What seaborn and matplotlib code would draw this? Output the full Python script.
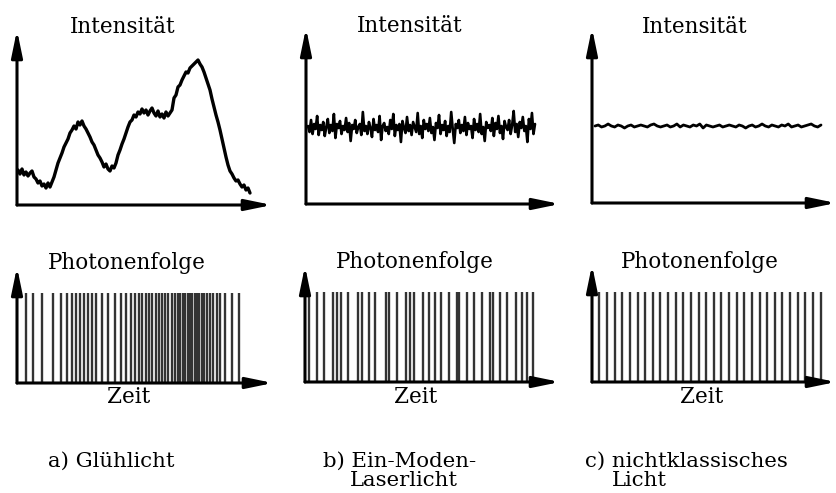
import numpy as np
import matplotlib
matplotlib.use("Agg")
import matplotlib.pyplot as plt
import seaborn as sns
import pandas as pd

# ---------------- data ----------------
titles_top = ["Intensität", "Intensität", "Intensität"]
titles_bottom = ["Photonenfolge", "Photonenfolge", "Photonenfolge"]
xlabel = "Zeit"
captions = ["a) Glühlicht", "b) Ein-Moden-\nLaserlicht", "c) nichtklassisches\nLicht"]

# a) thermal light intensity (arbitrary units), sampled every 2 time units from t=1
intensity_a = [35, 31, 36, 30, 33, 29, 32, 34, 28, 26,
               22, 24, 19, 21, 17, 22, 18, 23, 28, 35,
               42, 47, 52, 58, 62, 66, 72, 75, 79, 76,
               83, 80, 84, 79, 76, 72, 68, 63, 60, 55,
               50, 47, 43, 38, 41, 36, 34, 39, 37, 42,
               50, 55, 61, 66, 72, 78, 83, 85, 90, 88,
               93, 91, 96, 92, 95, 90, 94, 97, 92, 89,
               94, 88, 91, 87, 93, 89, 92, 95, 107, 110,
               118, 120, 125, 129, 133, 132, 137, 139, 141, 143,
               145, 141, 138, 133, 127, 121, 115, 106, 98, 90,
               83, 75, 66, 57, 48, 40, 34, 31, 27, 24,
               25, 21, 18, 20, 15, 17, 12]

# b) single-mode laser intensity
intensity_b = [78, 72, 84, 70, 80, 75, 88, 69, 79, 74,
               82, 68, 77, 85, 71, 79, 73, 90, 66, 80,
               76, 83, 70, 78, 74, 86, 72, 81, 63, 79,
               75, 84, 71, 77, 80, 69, 92, 73, 78, 70,
               82, 76, 67, 85, 74, 79, 72, 88, 64, 78,
               81, 73, 77, 70, 84, 75, 90, 68, 79, 74,
               80, 62, 83, 76, 71, 87, 73, 79, 69, 82,
               77, 72, 91, 70, 78, 66, 84, 75, 80, 73,
               86, 71, 77, 64, 81, 76, 89, 70, 79, 74,
               83, 68, 78, 72, 92, 75, 61, 80, 76, 84,
               71, 79, 73, 87, 69, 81, 75, 78, 66, 85,
               74, 80, 72, 90, 70, 77, 63, 82, 76, 79,
               73, 86, 68, 81, 75, 88, 71, 78, 65, 83,
               77, 74, 84, 70, 79, 93, 72, 80, 67, 82,
               76, 87, 73, 78, 62, 85, 75, 91, 70, 80]

# c) non-classical light intensity
intensity_c = [77, 78, 76, 77, 79, 77, 76, 78, 77, 75, 77, 78, 76, 77, 78, 77, 76, 78, 79, 77,
               76, 77, 78, 76, 77, 79, 76, 78, 77, 76, 78, 77, 79, 75, 78, 77, 76, 77, 78, 76,
               77, 78, 77, 76, 78, 77, 75, 77, 78, 76, 77, 79, 77, 76, 78, 77, 76, 78, 77, 79,
               76, 77, 78, 76, 77, 78, 79, 77, 76, 78]

# photon arrival times
photons_a = [9, 16, 25, 36, 44, 50, 55, 59, 63, 67, 71, 75, 79, 85, 91, 98, 104, 109,
             114, 118, 122, 125, 129, 132, 135, 139, 142, 145, 148, 151, 155, 158, 161,
             163, 166, 168, 171, 173, 175, 178, 180, 182, 185, 187, 190, 193, 196, 200,
             203, 208, 215, 222]
photons_b = [4, 11.5, 18.5, 28.3, 31.5, 36, 43, 53.3, 56.7, 64, 70.3, 80.7, 84, 92,
             100.7, 104.5, 109, 117.5, 123.5, 130.3, 136, 144, 151.7, 154.3, 161.7, 169,
             177, 185, 188.2, 195.3, 202.3, 210.7, 217, 222.3, 227.7]
photons_c = [7.3, 15, 22.6, 30.2, 37.8, 45.5, 53.1, 60.7, 68.4, 76, 83.6, 91.3, 98.9,
             106.5, 114.1, 121.8, 129.4, 137, 144.7, 152.3, 159.9, 167.6, 175.2, 182.8,
             190.4, 198.1, 205.7, 213.3, 221, 228.6]

# ---------------- style ----------------
sns.set_theme(style="white")
plt.rcParams["font.family"] = ["DejaVu Serif"]
plt.rcParams["text.color"] = "black"

W, H = 836, 493
fig = plt.figure(figsize=(W / 100, H / 100), dpi=100)
fig.patch.set_facecolor("white")


def make_axes(x0, y0, xtip, ytip):
    ax = fig.add_axes([x0 / W, (H - y0) / H, (xtip - x0) / W, (y0 - ytip) / H])
    ax.set_xlim(0, xtip - x0)
    ax.set_ylim(0, y0 - ytip)
    ax.set_facecolor("none")
    for s in ax.spines.values():
        s.set_visible(False)
    ax.set_xticks([])
    ax.set_yticks([])
    ax.set_xlabel("")
    ax.set_ylabel("")
    arrow = dict(arrowstyle="-|>,head_length=1.6,head_width=0.33", lw=2.2,
                 color="black", shrinkA=0, shrinkB=0, mutation_scale=10)
    ax.annotate("", xy=(1, 0), xytext=(0, 0), xycoords="axes fraction",
                arrowprops=arrow, annotation_clip=False)
    ax.annotate("", xy=(0, 1), xytext=(0, 0), xycoords="axes fraction",
                arrowprops=arrow, annotation_clip=False)
    return ax


# top intensity panels
top_specs = [(17, 205, 272, 30), (306, 204, 560, 28), (592, 203, 836, 28)]
series = [
    (np.arange(len(intensity_a)) * 2 + 1, intensity_a, 2.4),
    (np.linspace(2, 229, len(intensity_b)), intensity_b, 1.9),
    (np.linspace(3, 229, len(intensity_c)), intensity_c, 2.0),
]
for spec, (t, vals, lw) in zip(top_specs, series):
    ax = make_axes(*spec)
    df = pd.DataFrame({"t": t, "I": vals})
    sns.lineplot(data=df, x="t", y="I", ax=ax, color="black", linewidth=lw, sort=False)
    ax.set_xlabel("")
    ax.set_ylabel("")

# bottom photon panels
bot_specs = [(17, 383, 273, 267), (305, 382, 560, 266), (592, 382, 836, 265)]
for spec, ph in zip(bot_specs, [photons_a, photons_b, photons_c]):
    ax = make_axes(*spec)
    h = 90 / (spec[1] - spec[3])
    sns.rugplot(x=ph, ax=ax, height=h, color="#333333", linewidth=1.7, expand_margins=False)

# texts
fs = 15.5
for (x, y), s in zip([(123, 27), (410, 26), (695, 27)], titles_top):
    fig.text(x / W, 1 - y / H, s, ha="center", va="center", fontsize=fs)
for (x, y), s in zip([(127, 263), (415, 262), (700, 262)], titles_bottom):
    fig.text(x / W, 1 - y / H, s, ha="center", va="center", fontsize=fs)
for x in [129, 416, 702]:
    fig.text(x / W, 1 - 397 / H, xlabel, ha="center", va="center", fontsize=fs)

cap_pos = [(48, 461), (323, 461), (585, 461)]
for (x, y), s in zip(cap_pos, captions):
    lines = s.split("\n")
    fig.text(x / W, 1 - y / H, lines[0], ha="left", va="center", fontsize=15.3)
    if len(lines) > 1:
        fig.text((x + 27) / W, 1 - (y + 20) / H, lines[1], ha="left", va="center", fontsize=15.3)

fig.savefig("out.png", dpi=100, facecolor="white")
